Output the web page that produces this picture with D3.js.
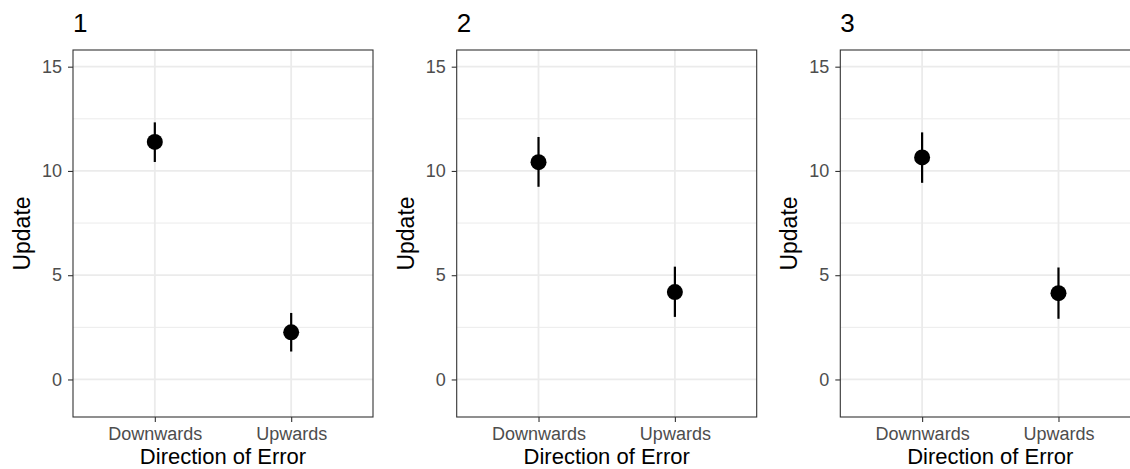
<!DOCTYPE html>
<html>
<head>
<meta charset="utf-8">
<script src="https://cdn.jsdelivr.net/npm/d3@7"></script>
<style>
  html, body { margin: 0; padding: 0; background: #fff; }
  svg { display: block; }
  text { font-family: "Liberation Sans", Arial, Helvetica, sans-serif; }
</style>
</head>
<body>
<svg id="chart" width="1130" height="469"></svg>
<script>
// ---- data ----
const panels = ["1", "2", "3"];
const categories = ["Downwards", "Upwards"];
const means = [
  [11.39, 2.26],
  [10.42, 4.19],
  [10.65, 4.14]
];
const lowers = [
  [10.43, 1.34],
  [9.24, 3.00],
  [9.43, 2.91]
];
const uppers = [
  [12.33, 3.19],
  [11.63, 5.41],
  [11.85, 5.37]
];
const yTicks = [0, 5, 10, 15];
const yMinor = [2.5, 7.5, 12.5];
const yLabel = "Update";
const xLabel = "Direction of Error";

// ---- layout ----
const svg = d3.select("#chart");
const panelLefts = [73, 456.7, 840.3];
const panelW = 300, pTop = 50, pBottom = 417;

const y = d3.scaleLinear().domain([-1.8, 15.8]).range([pBottom, pTop]);

panels.forEach((p, i) => {
  const left = panelLefts[i];
  const x = d3.scalePoint().domain(categories).range([left, left + panelW]).padding(0.6);
  const g = svg.append("g");

  g.append("rect").attr("x", left).attr("y", pTop).attr("width", panelW).attr("height", pBottom - pTop)
    .attr("fill", "#fff");

  g.selectAll(".minor").data(yMinor).join("line")
    .attr("x1", left).attr("x2", left + panelW)
    .attr("y1", d => y(d)).attr("y2", d => y(d))
    .attr("stroke", "#EBEBEB").attr("stroke-width", 1);
  g.selectAll(".majory").data(yTicks).join("line")
    .attr("x1", left).attr("x2", left + panelW)
    .attr("y1", d => y(d)).attr("y2", d => y(d))
    .attr("stroke", "#EBEBEB").attr("stroke-width", 1.8);
  g.selectAll(".majorx").data(categories).join("line")
    .attr("x1", d => x(d)).attr("x2", d => x(d))
    .attr("y1", pTop).attr("y2", pBottom)
    .attr("stroke", "#EBEBEB").attr("stroke-width", 1.8);

  g.selectAll(".err").data(categories).join("line")
    .attr("x1", d => x(d)).attr("x2", d => x(d))
    .attr("y1", (d, j) => y(lowers[i][j])).attr("y2", (d, j) => y(uppers[i][j]))
    .attr("stroke", "#000").attr("stroke-width", 2.2);
  g.selectAll(".pt").data(categories).join("circle")
    .attr("cx", d => x(d)).attr("cy", (d, j) => y(means[i][j]))
    .attr("r", 8).attr("fill", "#000");

  g.append("rect").attr("x", left).attr("y", pTop).attr("width", panelW).attr("height", pBottom - pTop)
    .attr("fill", "none").attr("stroke", "#333").attr("stroke-width", 1.1);

  const ya = g.append("g").attr("transform", `translate(${left},0)`)
    .call(d3.axisLeft(y).tickValues(yTicks).tickSize(5).tickPadding(6).tickFormat(d3.format("d")));
  ya.select(".domain").remove();
  ya.selectAll(".tick line").attr("stroke", "#333").attr("stroke-width", 1.1);
  ya.selectAll(".tick text").attr("fill", "#4D4D4D").style("font-size", "18px")
    .style("font-family", "'Liberation Sans', Arial, sans-serif");

  const xa = g.append("g").attr("transform", `translate(0,${pBottom})`)
    .call(d3.axisBottom(x).tickSize(5).tickPadding(5));
  xa.select(".domain").remove();
  xa.selectAll(".tick line").attr("stroke", "#333").attr("stroke-width", 1.1);
  xa.selectAll(".tick text").attr("fill", "#4D4D4D").style("font-size", "18px")
    .style("font-family", "'Liberation Sans', Arial, sans-serif");

  g.append("text").attr("x", left + panelW / 2).attr("y", 464)
    .attr("text-anchor", "middle").style("font-size", "22px").attr("fill", "#000").text(xLabel);
  g.append("text").attr("transform", `translate(${left - 43},${(pTop + pBottom) / 2}) rotate(-90)`)
    .attr("text-anchor", "middle").style("font-size", "23px").attr("fill", "#000").text(yLabel);

  g.append("text").attr("x", left).attr("y", 32)
    .style("font-size", "26px").attr("fill", "#000").text(p);
});
</script>
</body>
</html>
